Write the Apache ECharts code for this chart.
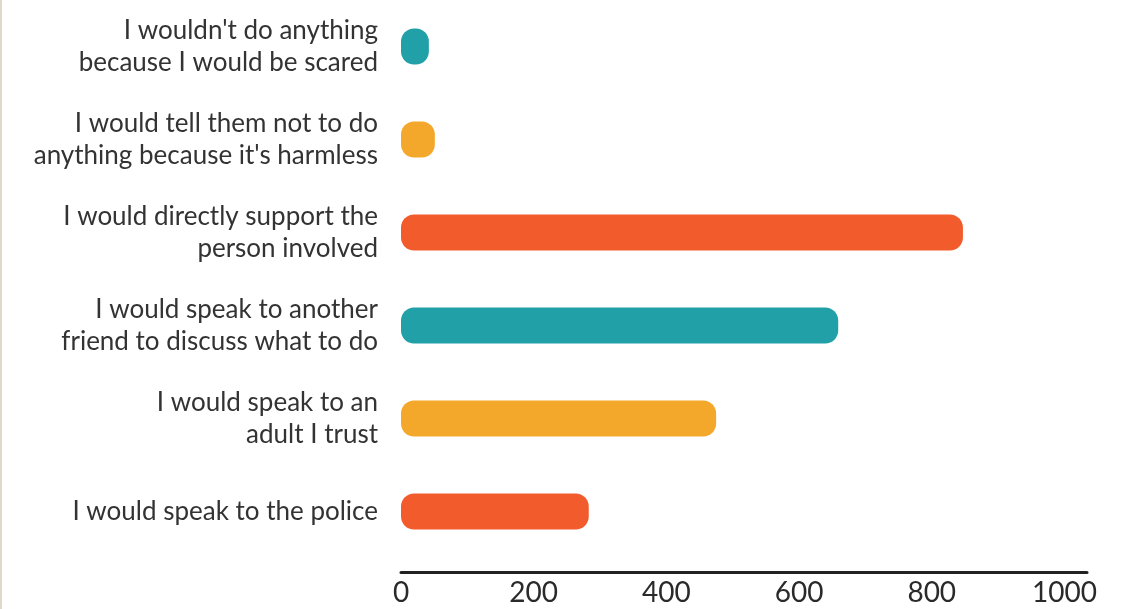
<!DOCTYPE html>
<html>
<head>
<meta charset="utf-8">
<script src="https://cdn.jsdelivr.net/npm/echarts@6/dist/echarts.min.js"></script>
<style>
  html, body { margin: 0; padding: 0; background: #ffffff; }
  #chart { width: 1129px; height: 609px; }
</style>
</head>
<body>
<div id="chart"></div>
<script>
// Responses, listed top to bottom
const categories = [
  "I wouldn't do anything\nbecause I would be scared",
  "I would tell them not to do\nanything because it's harmless",
  "I would directly support the\nperson involved",
  "I would speak to another\nfriend to discuss what to do",
  "I would speak to an\nadult I trust",
  "I would speak to the police"
];
const responseCounts = [42, 51, 847, 659, 475, 283];
const tickValues = [0, 200, 400, 600, 800, 1000];

// Bar colours cycle teal / amber / orange
const palette = ['#22a0a7', '#f3a82b', '#f25c2c'];

const chart = echarts.init(document.getElementById('chart'), null, { renderer: 'canvas' });

chart.setOption({
  animation: false,
  backgroundColor: '#ffffff',
  grid: { left: 401, right: 42, top: -12, height: 570 },
  xAxis: {
    type: 'value',
    min: 0,
    max: 1034,
    interval: 200,
    offset: 14,
    axisLine: { show: true, lineStyle: { color: '#222222', width: 3 } },
    axisTick: { show: false },
    splitLine: { show: false },
    axisLabel: {
      margin: 7,
      color: '#2a2a2a',
      fontFamily: 'Lato',
      fontSize: 28,
      showMaxLabel: false,
      formatter: v => (tickValues.indexOf(v) >= 0 ? String(v) : '')
    }
  },
  yAxis: {
    type: 'category',
    inverse: true,
    data: categories,
    axisLine: { show: false },
    axisTick: { show: false },
    axisLabel: {
      margin: 23,
      color: '#333333',
      fontFamily: 'Lato',
      fontSize: 26,
      lineHeight: 32,
      align: 'right'
    }
  },
  series: [{
    type: 'bar',
    data: responseCounts.map((v, i) => ({ value: v, itemStyle: { color: palette[i % 3] } })),
    barWidth: 36,
    itemStyle: { borderRadius: 13 }
  }],
  graphic: [{
    type: 'rect',
    shape: { x: 0, y: 0, width: 2, height: 609 },
    style: { fill: '#dedbcd' },
    silent: true
  }]
});
</script>
</body>
</html>
